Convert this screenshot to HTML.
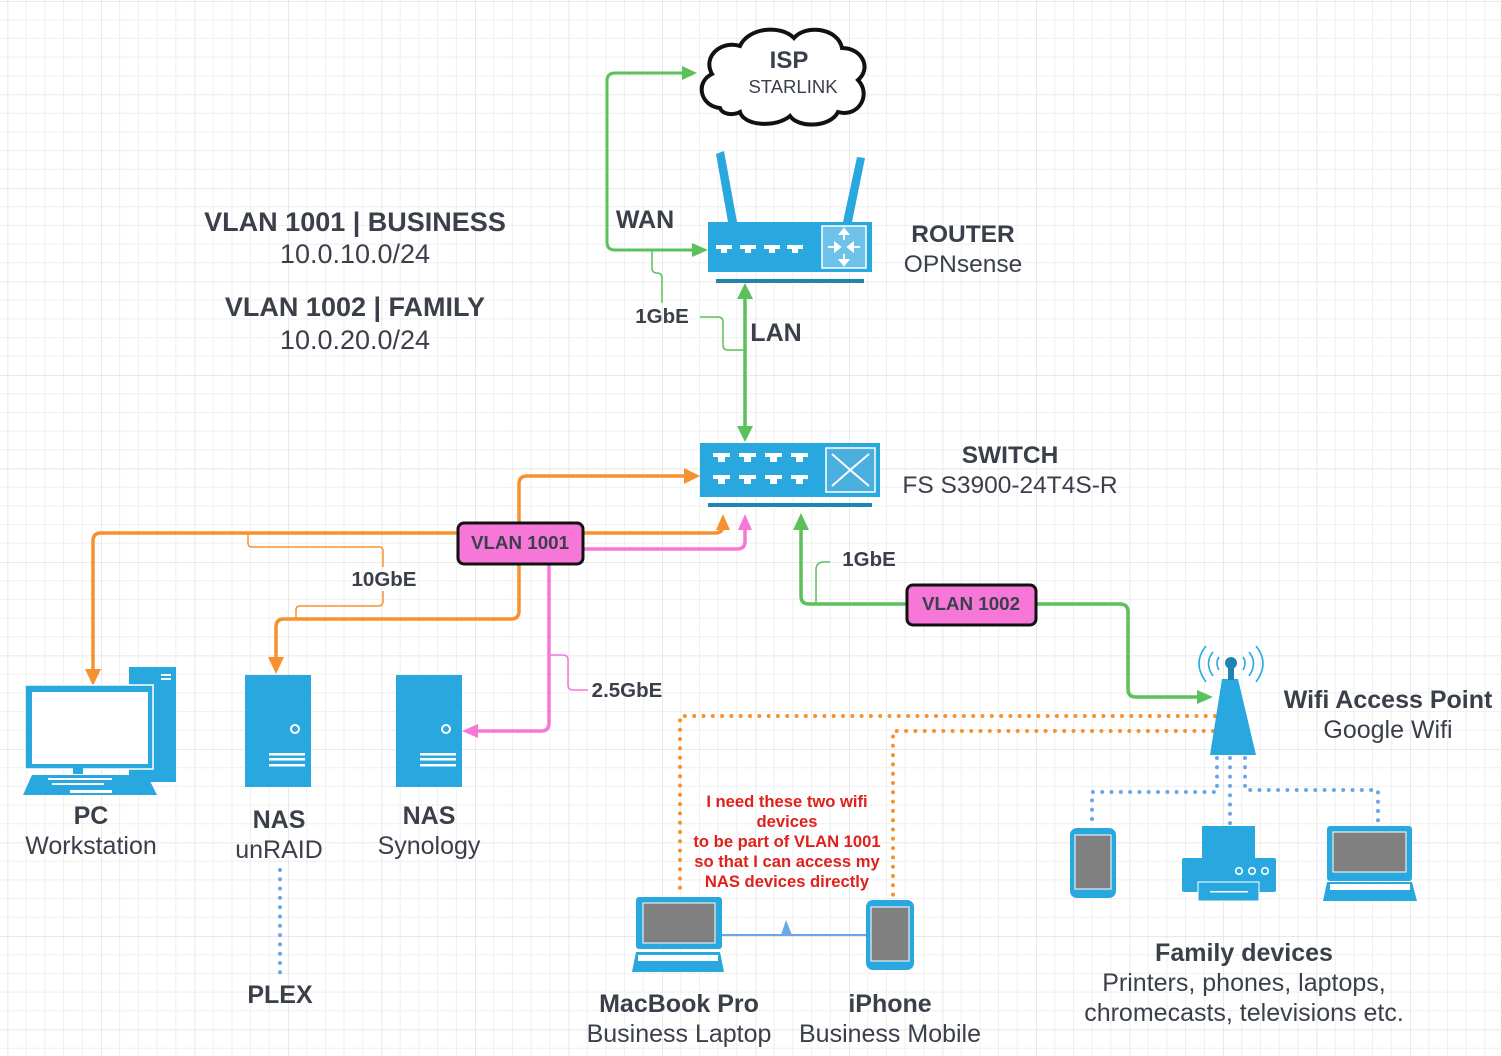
<!DOCTYPE html>
<html><head><meta charset="utf-8"><style>
html,body{margin:0;padding:0;background:#fff;}
svg{display:block;font-family:"Liberation Sans",sans-serif;}
.t{fill:#3a3f4a;}
.b{font-weight:bold;}
</style></head><body>
<svg width="1501" height="1056" viewBox="0 0 1501 1056" xmlns="http://www.w3.org/2000/svg">
<defs>
<pattern id="g" x="7.5" y="1" width="93.5" height="93.5" patternUnits="userSpaceOnUse">
<path d="M18.7 0V93.5M37.4 0V93.5M56.1 0V93.5M74.8 0V93.5M0 18.7H93.5M0 37.4H93.5M0 56.1H93.5M0 74.8H93.5" stroke="#efefef" stroke-width="1"/>
<path d="M0 0V93.5M0 0H93.5" stroke="#e2e2e2" stroke-width="1.5"/>
</pattern>
</defs>
<rect width="1501" height="1056" fill="url(#g)"/>

<!-- cloud -->
<path d="M720,108 C700,106 695,82 712,74 C702,56 722,40 740,46 C748,28 780,24 794,38 C806,24 838,28 842,48 C862,48 872,68 858,80 C872,95 858,118 838,112 C830,128 798,128 790,116 C776,128 744,126 740,112 C732,116 722,114 720,108 Z" fill="#fff" stroke="#111" stroke-width="4"/>
<text x="789" y="68" text-anchor="middle" class="t b" font-size="24">ISP</text>
<text x="793" y="93" text-anchor="middle" class="t" font-size="18.5">STARLINK</text>

<!-- WAN green -->
<path d="M695,250 H615 Q607,250 607,242 V81 Q607,73 615,73 H685" fill="none" stroke="#5cc15a" stroke-width="3"/>
<polygon points="697,73 682,66 682,80" fill="#5cc15a"/>
<polygon points="708,250 692,243 692,257" fill="#5cc15a"/>
<path d="M652,250 V268 Q652,273 657,273 Q662,273 662,278 V303" fill="none" stroke="#5cc15a" stroke-width="1.5"/>
<path d="M700,317 H718 Q723,317 723,322 V345 Q723,350 728,350 H745" fill="none" stroke="#5cc15a" stroke-width="1.5"/>
<text x="645" y="228" text-anchor="middle" class="t b" font-size="25">WAN</text>
<text x="662" y="323" text-anchor="middle" class="t b" font-size="20.5">1GbE</text>
<text x="776" y="341" text-anchor="middle" class="t b" font-size="25">LAN</text>

<!-- LAN -->
<line x1="745" y1="295" x2="745" y2="430" stroke="#5cc15a" stroke-width="3.5"/>
<polygon points="745,283 737,299 753,299" fill="#5cc15a"/>
<polygon points="745,442 737,426 753,426" fill="#5cc15a"/>

<!-- router -->
<polygon points="716,154 724,151 737,222 728,222" fill="#29a8e0"/>
<polygon points="857,157 865,158 852,222 843,222" fill="#29a8e0"/>
<rect x="708" y="222" width="164" height="50" fill="#29a8e0"/>
<rect x="716" y="279" width="148" height="4" fill="#1e84b4"/>
<g fill="#fff">
<path d="M716,245h16v4h-5v4h-6v-4h-5z"/><path d="M740,245h16v4h-5v4h-6v-4h-5z"/><path d="M764,245h16v4h-5v4h-6v-4h-5z"/><path d="M787,245h16v4h-5v4h-6v-4h-5z"/>
</g>
<rect x="822" y="226" width="44" height="42" fill="#6ec2ea" stroke="#fff" stroke-width="1.5"/>
<g stroke="#fff" stroke-width="2" fill="#fff">
<line x1="844" y1="231" x2="844" y2="240"/><polygon points="844,229 840,234 848,234"/>
<line x1="844" y1="254" x2="844" y2="263"/><polygon points="844,265 840,260 848,260"/>
<line x1="828" y1="247" x2="838" y2="247"/><polygon points="840,247 835,243 835,251"/>
<line x1="850" y1="247" x2="860" y2="247"/><polygon points="848,247 853,243 853,251"/>
</g>
<text x="963" y="242" text-anchor="middle" class="t b" font-size="24.5">ROUTER</text>
<text x="963" y="272" text-anchor="middle" class="t" font-size="24.5">OPNsense</text>

<!-- switch -->
<rect x="700" y="443" width="180" height="54" fill="#29a8e0"/>
<rect x="708" y="503" width="164" height="4" fill="#1e84b4"/>
<g fill="#fff">
<path d="M713,453h17v4h-5v5h-7v-5h-5z"/><path d="M739,453h17v4h-5v5h-7v-5h-5z"/><path d="M765,453h17v4h-5v5h-7v-5h-5z"/><path d="M791,453h17v4h-5v5h-7v-5h-5z"/>
<path d="M713,475h17v4h-5v5h-7v-5h-5z"/><path d="M739,475h17v4h-5v5h-7v-5h-5z"/><path d="M765,475h17v4h-5v5h-7v-5h-5z"/><path d="M791,475h17v4h-5v5h-7v-5h-5z"/>
</g>
<rect x="826" y="448" width="49" height="44" fill="#4aaedf" stroke="#fff" stroke-width="1.5"/>
<path d="M832,454 Q850,470 869,486 M869,454 Q850,470 832,486" stroke="#fff" stroke-width="2" fill="none"/>
<text x="1010" y="463" text-anchor="middle" class="t b" font-size="24.5">SWITCH</text>
<text x="1010" y="493" text-anchor="middle" class="t" font-size="24.5">FS S3900-24T4S-R</text>

<!-- VLAN text -->
<text x="355" y="231" text-anchor="middle" class="t b" font-size="27">VLAN 1001 | BUSINESS</text>
<text x="355" y="263" text-anchor="middle" class="t" font-size="27">10.0.10.0/24</text>
<text x="355" y="316" text-anchor="middle" class="t b" font-size="27">VLAN 1002 | FAMILY</text>
<text x="355" y="349" text-anchor="middle" class="t" font-size="27">10.0.20.0/24</text>

<!-- orange lines -->
<g fill="none" stroke="#f7912f" stroke-width="3.5">
<path d="M519,525 V484 Q519,476 527,476 H688"/>
<path d="M458,533 H101 Q93,533 93,541 V672"/>
<path d="M583,533 H715 Q723,533 723,525 V526"/>
<path d="M519,564 V611 Q519,619 511,619 H284 Q276,619 276,627 V660"/>
</g>
<polygon points="700,476 684,468 684,484" fill="#f7912f"/>
<polygon points="93,686 85,669 101,669" fill="#f7912f"/>
<polygon points="723,514 716,530 730,530" fill="#f7912f"/>
<polygon points="276,674 268,657 284,657" fill="#f7912f"/>
<g fill="none" stroke="#f7912f" stroke-width="1.5">
<path d="M248,533 V543 Q248,547 252,547 H379 Q383,547 383,551 V567"/>
<path d="M383,591 V601 Q383,606 378,606 H300 Q296,606 296,610 V619"/>
</g>
<text x="384" y="586" text-anchor="middle" class="t b" font-size="20.5">10GbE</text>

<!-- pink -->
<g fill="none" stroke="#f777d9" stroke-width="3.5">
<path d="M583,549 H737 Q745,549 745,541 V528"/>
<path d="M549,564 V723 Q549,731 541,731 H476"/>
</g>
<polygon points="745,514 738,530 752,530" fill="#f777d9"/>
<polygon points="462,731 478,724 478,738" fill="#f777d9"/>
<path d="M549,655 H563 Q568,655 568,660 V685 Q568,690 573,690 H588" fill="none" stroke="#f777d9" stroke-width="1.5"/>
<text x="627" y="697" text-anchor="middle" class="t b" font-size="20.5">2.5GbE</text>

<rect x="458" y="523" width="125" height="41" rx="6" fill="#f777d9" stroke="#111" stroke-width="3"/>
<text x="520" y="549" text-anchor="middle" class="t b" font-size="18.8">VLAN 1001</text>

<!-- green to AP -->
<path d="M801,528 V596 Q801,604 809,604 H1120 Q1128,604 1128,612 V689 Q1128,697 1136,697 H1198" fill="none" stroke="#5cc15a" stroke-width="3.5"/>
<polygon points="801,513 793,530 809,530" fill="#5cc15a"/>
<polygon points="1213,697 1197,690 1197,704" fill="#5cc15a"/>
<path d="M816,604 V570 Q816,562 824,562 H830" fill="none" stroke="#5cc15a" stroke-width="1.5"/>
<text x="869" y="566" text-anchor="middle" class="t b" font-size="20.5">1GbE</text>
<rect x="907" y="585" width="129" height="40" rx="6" fill="#f777d9" stroke="#111" stroke-width="3"/>
<text x="971" y="610" text-anchor="middle" class="t b" font-size="18.8">VLAN 1002</text>

<!-- orange dotted -->
<g fill="none" stroke="#f7912f" stroke-width="4" stroke-linecap="round" stroke-dasharray="0 9.3">
<path d="M1215,716 H680 V895"/>
<path d="M1213,731 H893 V900"/>
</g>
<!-- blue dotted -->
<g fill="none" stroke="#6aa6e8" stroke-width="4" stroke-linecap="round" stroke-dasharray="0 9.3">
<path d="M1217,758 V792 H1092 V828"/>
<path d="M1230,758 V826"/>
<path d="M1245,758 V790 H1378 V826"/>
<path d="M280,870 V975"/>
</g>

<!-- AP -->
<polygon points="1222,679 1238,679 1256,755 1210,755" fill="#29a8e0"/>
<rect x="1228" y="663" width="6" height="17" fill="#1e84b4"/>
<circle cx="1231" cy="663" r="6" fill="#1e84b4"/>
<g fill="none" stroke="#29a8e0" stroke-width="1.6">
<path d="M1206,646 Q1192,663 1206,682"/><path d="M1256,646 Q1270,663 1256,682"/>
<path d="M1213,652 Q1204,663 1213,676"/><path d="M1249,652 Q1258,663 1249,676"/>
<path d="M1219,657 Q1215,663 1219,670"/><path d="M1243,657 Q1247,663 1243,670"/>
</g>
<text x="1388" y="708" text-anchor="middle" class="t b" font-size="25">Wifi Access Point</text>
<text x="1388" y="738" text-anchor="middle" class="t" font-size="25">Google Wifi</text>

<!-- PC -->
<rect x="129" y="667" width="47" height="115" fill="#29a8e0"/>
<rect x="161" y="674" width="10" height="2" fill="#fff"/><rect x="161" y="678" width="10" height="2" fill="#fff"/>
<rect x="25" y="685" width="128" height="84" fill="#29a8e0" stroke="#fff" stroke-width="1.5"/>
<rect x="32" y="692" width="116" height="72" fill="#fff"/>
<rect x="73" y="768" width="10" height="6" fill="#29a8e0"/>
<polygon points="32,775 147,775 157,795 23,795" fill="#29a8e0"/>
<rect x="70" y="790" width="42" height="3" fill="#fff"/>
<g fill="#fff"><rect x="48" y="778" width="64" height="2"/><rect x="52" y="783" width="52" height="2"/></g>
<text x="91" y="824" text-anchor="middle" class="t b" font-size="25">PC</text>
<text x="91" y="854" text-anchor="middle" class="t" font-size="25">Workstation</text>

<!-- NAS -->
<g>
<rect x="245" y="675" width="66" height="112" fill="#29a8e0"/>
<circle cx="295" cy="729" r="4" fill="none" stroke="#fff" stroke-width="2"/>
<rect x="269" y="753" width="36" height="2.5" fill="#fff"/><rect x="269" y="758" width="36" height="2.5" fill="#fff"/><rect x="269" y="764" width="36" height="2.5" fill="#fff"/>
<rect x="396" y="675" width="66" height="112" fill="#29a8e0"/>
<circle cx="446" cy="729" r="4" fill="none" stroke="#fff" stroke-width="2"/>
<rect x="420" y="753" width="36" height="2.5" fill="#fff"/><rect x="420" y="758" width="36" height="2.5" fill="#fff"/><rect x="420" y="764" width="36" height="2.5" fill="#fff"/>
</g>
<text x="279" y="828" text-anchor="middle" class="t b" font-size="25">NAS</text>
<text x="279" y="858" text-anchor="middle" class="t" font-size="25">unRAID</text>
<text x="429" y="824" text-anchor="middle" class="t b" font-size="25">NAS</text>
<text x="429" y="854" text-anchor="middle" class="t" font-size="25">Synology</text>
<text x="280" y="1003" text-anchor="middle" class="t b" font-size="25">PLEX</text>

<!-- note -->
<g fill="#e0201b" font-weight="bold" font-size="16.6" text-anchor="middle">
<text x="787" y="807">I need these two wifi</text>
<text x="787" y="827">devices</text>
<text x="787" y="847">to be part of VLAN 1001</text>
<text x="787" y="867">so that I can access my</text>
<text x="787" y="887">NAS devices directly</text>
</g>

<!-- macbook, iphone -->
<line x1="722" y1="935" x2="866" y2="935" stroke="#6aa6e8" stroke-width="2"/>
<polygon points="786,920 781,935 792,935" fill="#6aa6e8"/>
<rect x="636" y="897" width="86" height="52" rx="3" fill="#29a8e0"/>
<rect x="643" y="903" width="72" height="40" fill="#808080" stroke="#fff" stroke-width="1"/>
<polygon points="636,952 720,952 724,972 632,972" fill="#29a8e0"/>
<rect x="638" y="955" width="80" height="6" fill="#fff"/>
<rect x="866" y="900" width="48" height="70" rx="7" fill="#29a8e0"/>
<rect x="871" y="907" width="38" height="54" fill="#808080" stroke="#fff" stroke-width="1"/>
<text x="679" y="1012" text-anchor="middle" class="t b" font-size="25">MacBook Pro</text>
<text x="679" y="1042" text-anchor="middle" class="t" font-size="25">Business Laptop</text>
<text x="890" y="1012" text-anchor="middle" class="t b" font-size="25">iPhone</text>
<text x="890" y="1042" text-anchor="middle" class="t" font-size="25">Business Mobile</text>

<!-- family devices -->
<rect x="1070" y="828" width="46" height="70" rx="7" fill="#29a8e0"/>
<rect x="1075" y="835" width="36" height="54" fill="#808080" stroke="#fff" stroke-width="1"/>
<rect x="1202" y="826" width="53" height="33" fill="#29a8e0"/>
<rect x="1182" y="858" width="94" height="34" rx="2" fill="#29a8e0"/>
<g fill="none" stroke="#fff" stroke-width="1.6"><circle cx="1239" cy="871" r="3.3"/><circle cx="1252" cy="871" r="3.3"/><circle cx="1265" cy="871" r="3.3"/></g>
<rect x="1198" y="882" width="61" height="19" fill="#29a8e0" stroke="#fff" stroke-width="1"/>
<rect x="1210" y="891" width="38" height="1.5" fill="#fff"/>
<rect x="1327" y="826" width="85" height="55" rx="3" fill="#29a8e0"/>
<rect x="1333" y="832" width="73" height="40" fill="#808080" stroke="#fff" stroke-width="1"/>
<polygon points="1327,882 1412,882 1417,901 1323,901" fill="#29a8e0"/>
<rect x="1330" y="884" width="80" height="6" fill="#fff"/>
<text x="1244" y="961" text-anchor="middle" class="t b" font-size="25">Family devices</text>
<text x="1244" y="991" text-anchor="middle" class="t" font-size="25">Printers, phones, laptops,</text>
<text x="1244" y="1021" text-anchor="middle" class="t" font-size="25">chromecasts, televisions etc.</text>
</svg>
</body></html>
